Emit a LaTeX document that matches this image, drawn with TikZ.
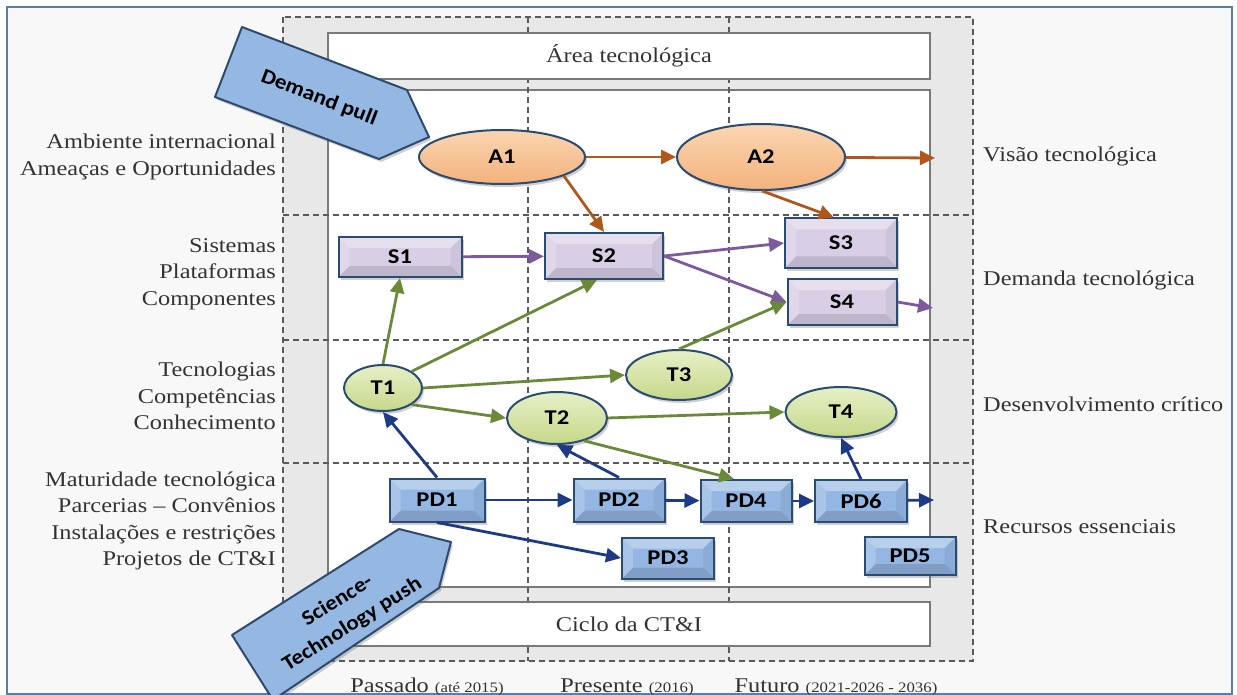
\documentclass[tikz,border=0pt]{standalone}
\usepackage{fontspec}
\setmainfont[FakeStretch=1.16]{Liberation Serif}
\newfontfamily\nodefont[FakeStretch=1.17]{Carlito}
\newfontfamily\bigfont[FakeStretch=1.1]{Carlito}
\usetikzlibrary{arrows.meta,shapes.geometric,shadows,calc}
\definecolor{labelgray}{HTML}{333333}
\definecolor{dashgray}{HTML}{5A5A5A}
\definecolor{boxgray}{HTML}{7A7A7A}
\definecolor{bandgray}{HTML}{E8E8E8}
\definecolor{bgcol}{HTML}{F8F8F8}
\definecolor{framecol}{HTML}{5B7DAA}
\definecolor{nborder}{HTML}{2A4B72}
\definecolor{orL}{HTML}{FBD6B2}
\definecolor{orD}{HTML}{F3B27C}
\definecolor{orA}{HTML}{B0581C}
\definecolor{puF}{HTML}{D8CFE6}
\definecolor{puA}{HTML}{7D5A9C}
\definecolor{grL}{HTML}{E6F0C6}
\definecolor{grD}{HTML}{C6D88A}
\definecolor{grA}{HTML}{6A8A3A}
\definecolor{blF}{HTML}{93B6E2}
\definecolor{blA}{HTML}{1F3A85}
\definecolor{bigF}{HTML}{95B8E3}
\definecolor{bigB}{HTML}{2E4B6E}
\begin{document}
\begin{tikzpicture}[x=1pt,y=-1pt,
  lbl/.style={font=\fontsize{21}{26.5}\selectfont, text=labelgray, inner sep=0pt},
  dashl/.style={draw=dashgray, line width=1.3pt, dash pattern=on 6pt off 4pt},
  boxst/.style={draw=boxgray, line width=1.6pt, fill=white},
  shad/.style={drop shadow={shadow xshift=2pt, shadow yshift=-3pt, opacity=0.3, fill=black!60}},
  bevel/.style={path picture={
    \fill[white,opacity=0.35] (path picture bounding box.north west) -- (path picture bounding box.north east) -- ([xshift=-11pt,yshift=-11pt]path picture bounding box.north east) -- ([xshift=11pt,yshift=-11pt]path picture bounding box.north west) -- cycle;
    \fill[white,opacity=0.2] (path picture bounding box.north west) -- ([xshift=11pt,yshift=-11pt]path picture bounding box.north west) -- ([xshift=11pt,yshift=11pt]path picture bounding box.south west) -- (path picture bounding box.south west) -- cycle;
    \fill[black,opacity=0.12] (path picture bounding box.south west) -- (path picture bounding box.south east) -- ([xshift=-11pt,yshift=11pt]path picture bounding box.south east) -- ([xshift=11pt,yshift=11pt]path picture bounding box.south west) -- cycle;
    \fill[black,opacity=0.05] (path picture bounding box.north east) -- (path picture bounding box.south east) -- ([xshift=-11pt,yshift=11pt]path picture bounding box.south east) -- ([xshift=-11pt,yshift=-11pt]path picture bounding box.north east) -- cycle;
  }},
  nfont/.style={font=\nodefont\bfseries\fontsize{21}{23}\selectfont},
  ell/.style={ellipse, draw=nborder, line width=2pt, inner sep=0pt, shad, nfont},
  rct/.style={rectangle, draw=nborder, line width=2pt, inner sep=0pt, shad, nfont, bevel},
  ellO/.style={ell, top color=orL, bottom color=orD},
  ellG/.style={ell, top color=grL, bottom color=grD},
  rctP/.style={rct, fill=puF},
  rctB/.style={rct, fill=blF},
  arw/.style={line width=2.8pt, -{Triangle[length=15pt,width=14pt]}},
  arO/.style={arw, orA},
  arP/.style={arw, puA},
  arG/.style={arw, grA},
  arB/.style={arw, blA},
  bigar/.style={fill=bigF, draw=bigB, line width=2pt, line join=round, shad},
  bigtxt/.style={font=\bigfont\bfseries\fontsize{21}{28}\selectfont, inner sep=0pt, align=center}
]
\useasboundingbox (0,0) rectangle (1237,695);
\clip (0,0) rectangle (1237,695);
% frame and background
\fill[white] (0,0) rectangle (1237,695);
\draw[framecol, line width=1.5pt, fill=bgcol] (7,7) rectangle (1232,694);
% grey dashed area
\draw[dashl, fill=bandgray] (283,17) rectangle (973,661);
\draw[boxst] (328,90) rectangle (930,587);
\draw[dashl] (528,17) -- (528,661);
\draw[dashl] (729,17) -- (729,661);
\node[boxst, lbl, minimum width=602pt, minimum height=46pt] (area) at (629,56) {Área tecnológica};
\node[boxst, lbl, minimum width=602pt, minimum height=44pt] (ciclo) at (629,624) {Ciclo da CT\&I};
\draw[dashl] (283,215) -- (973,215);
\draw[dashl] (283,340) -- (973,340);
\draw[dashl] (283,463) -- (973,463);
% left labels
\node[lbl, anchor=east, align=right] (l1) at (276,157) {Ambiente internacional\\Ameaças e Oportunidades};
\node[lbl, anchor=east, align=right] (l2) at (276,274) {Sistemas\\Plataformas\\Componentes};
\node[lbl, anchor=east, align=right] (l3) at (276,396) {Tecnologias\\Competências\\Conhecimento};
\node[lbl, anchor=east, align=right] (l4) at (276,521) {Maturidade tecnológica\\Parcerias -- Convênios\\Instalações e restrições\\Projetos de CT\&I};
% right labels
\node[lbl, anchor=west] (r1) at (983,156) {Visão tecnológica};
\node[lbl, anchor=west] (r2) at (983,280) {Demanda tecnológica};
\node[lbl, anchor=west] (r3) at (983,404) {Desenvolvimento crítico};
\node[lbl, anchor=west] (r4) at (983,527) {Recursos essenciais};
% bottom labels
\node[lbl, anchor=base] (b1) at (427,692) {Passado {\fontsize{14.5}{16}\selectfont(até 2015)}};
\node[lbl, anchor=base] (b2) at (627,692) {Presente {\fontsize{14.5}{16}\selectfont(2016)}};
\node[lbl, anchor=base] (b3) at (836,692) {Futuro {\fontsize{14.5}{16}\selectfont(2021-2026 - 2036)}};
% nodes
\node[ellO, minimum width=166pt, minimum height=54pt] (A1) at (502,157) {A1};
\node[ellO, minimum width=168pt, minimum height=66pt] (A2) at (761,157) {A2};
\node[rctP, minimum width=123pt, minimum height=40pt] (S1) at (400,257) {S1};
\node[rctP, minimum width=118pt, minimum height=46pt] (S2) at (604,256) {S2};
\node[rctP, minimum width=112pt, minimum height=49pt] (S3) at (841,243) {S3};
\node[rctP, minimum width=109pt, minimum height=46pt] (S4) at (842,302) {S4};
\node[ellG, minimum width=78pt, minimum height=46pt] (T1) at (383,388) {T1};
\node[ellG, minimum width=100pt, minimum height=52pt] (T2) at (557,418) {T2};
\node[ellG, minimum width=106pt, minimum height=50pt] (T3) at (679,375) {T3};
\node[ellG, minimum width=111pt, minimum height=50pt] (T4) at (841,412) {T4};
\node[rctB, minimum width=95pt, minimum height=43pt] (PD1) at (437,500) {PD1};
\node[rctB, minimum width=91pt, minimum height=43pt] (PD2) at (619,500) {PD2};
\node[rctB, minimum width=91pt, minimum height=42pt] (PD4) at (746,501) {PD4};
\node[rctB, minimum width=92pt, minimum height=42pt] (PD6) at (861,501) {PD6};
\node[rctB, minimum width=92pt, minimum height=41pt] (PD3) at (668,558) {PD3};
\node[rctB, minimum width=91pt, minimum height=38pt] (PD5) at (910,556) {PD5};
\coordinate (A2e) at (935,158);
\coordinate (S4e) at (933,308);
\coordinate (PD6e) at (934,500);
% orange arrows
\draw[arO] (A1) -- (A2);
\draw[arO] (A2) -- (A2e);
\draw[arO] (A1.-17) -- (S2.north);
\draw[arO] (A2.-88) -- ([xshift=-7pt]S3.north);
% purple arrows
\draw[arP] (S1) -- (S2);
\draw[arP] (S2.east) -- (S3.west);
\draw[arP] (S2.east) -- (S4.west);
\draw[arP] (S4.east) -- (S4e);
% green arrows
\draw[arG] (T1.north) -- (S1.south);
\draw[arG] (T1.30) -- ([xshift=-7pt]S2.south);
\draw[arG] (T1.east) -- (T3.west);
\draw[arG] (T1.-30) -- (T2.west);
\draw[arG] (T3.north) -- (S4.west);
\draw[arG] (T2.east) -- (T4.west);
\draw[arG] (T2.-40) -- ([xshift=-12pt]PD4.north);
% blue arrows
\draw[arB] (PD1.north) -- (T1.south);
\draw[arB] (PD2.north) -- (T2.south);
\draw[arB] (PD1) -- (PD2);
\draw[arB] (PD2) -- (PD4);
\draw[arB] (PD4) -- (PD6);
\draw[arB] (PD6) -- (PD6e);
\draw[arB] (PD1.south) -- (PD3.west);
\draw[arB] (PD6.north) -- (T4.south);
% big arrows
\draw[bigar] (242,27) -- (407,90) -- (429,137) -- (379,159) -- (215,97) -- cycle;
\node[bigtxt, rotate=-21] (dp) at (319,98) {Demand pull};
\draw[bigar] (232,635) -- (399,529) -- (451,542) -- (439,588) -- (273,700) -- cycle;
\node[bigtxt, rotate=32] (stp) at (345,613) {Science-\\Technology push};
\end{tikzpicture}
\end{document}
